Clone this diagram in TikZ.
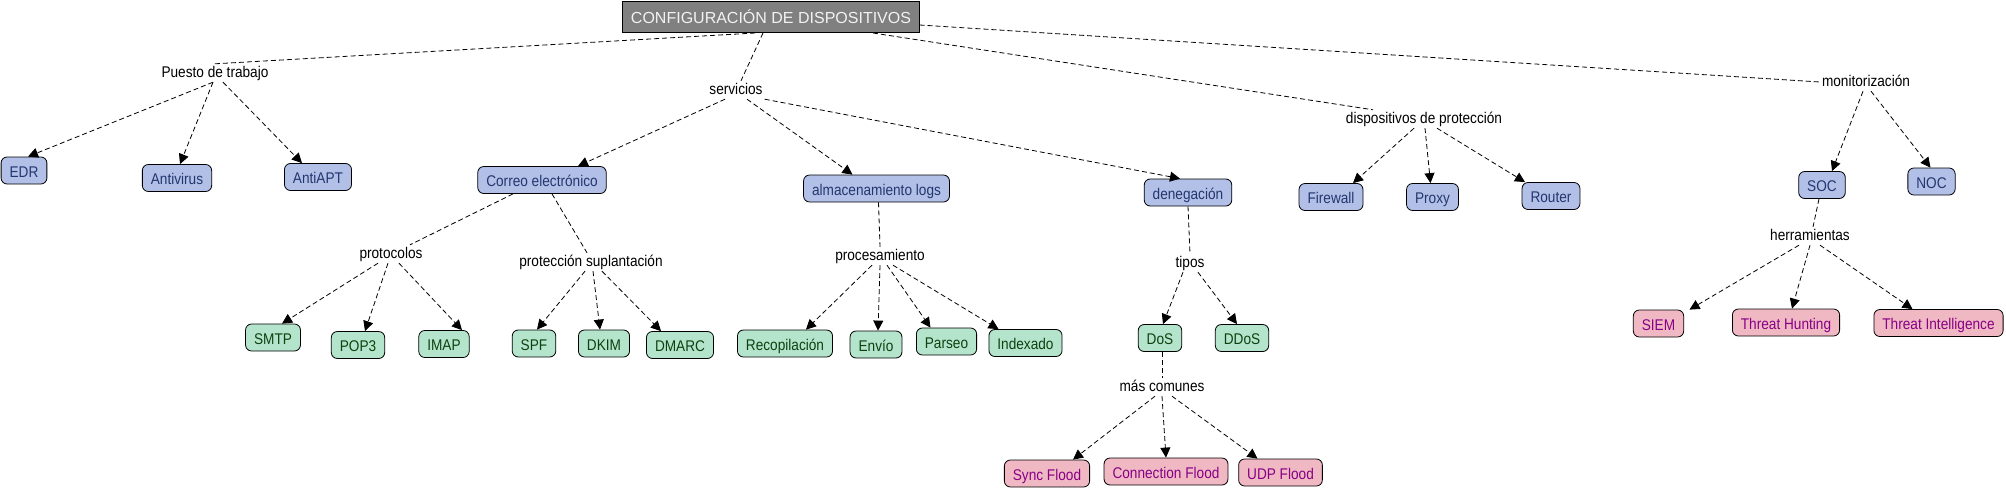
\documentclass[tikz,border=0pt]{standalone}
\usepackage{fontspec}
\setmainfont{Liberation Sans}
\newfontfamily\mapafont[FakeStretch=0.88]{Liberation Sans}
\usetikzlibrary{arrows.meta}

\definecolor{gris}{RGB}{128,128,128}
\definecolor{azulfondo}{RGB}{178,192,232}
\definecolor{azultexto}{RGB}{35,55,110}
\definecolor{verdefondo}{RGB}{180,228,204}
\definecolor{verdetexto}{RGB}{15,65,15}
\definecolor{rosafondo}{RGB}{240,184,194}
\definecolor{rosatexto}{RGB}{135,0,135}

\tikzset{
    myroot/.style={
        rectangle,            % 直角矩形
        fill=gris,            % 灰色填充
        draw=black,
        line width=1pt,
        text=black!5,
        minimum height=31pt,
        inner xsep=8pt,
        font=\fontsize{16}{19}\selectfont
    },
    myconcept/.style={
        rectangle,
        rounded corners=6pt,  % 圆角
        draw=black,
        line width=0.8pt,
        minimum height=27pt,
        inner xsep=8.5pt,
        text height=13.5pt,
        text depth=0pt,
        font=\mapafont\fontsize{15.5}{18}\selectfont
    },
    azul/.style={myconcept, fill=azulfondo, text=azultexto},
    verde/.style={myconcept, fill=verdefondo, text=verdetexto},
    rosa/.style={myconcept, fill=rosafondo, text=rosatexto},
    mylabel/.style={
        inner sep=2pt,        % 连接词，无边框
        text height=11pt,
        text depth=3pt,
        font=\mapafont\fontsize{15.5}{18}\selectfont
    },
    myline/.style={dash pattern=on 5pt off 3pt, line width=0.8pt},
    myarrow/.style={myline, -{Triangle[length=10pt,width=10pt]}}
}

\begin{document}
\begin{tikzpicture}[x=1pt, y=-1pt]
\useasboundingbox (0,0) rectangle (2006,490);

% 根节点
\node[myroot] (raiz) at (771,17) {CONFIGURACIÓN DE DISPOSITIVOS};

% 连接词
\node[mylabel] (puesto) at (215,73) {Puesto de trabajo};
\node[mylabel] (servicios) at (736,90) {servicios};
\node[mylabel] (dispositivos) at (1424,119) {dispositivos de protección};
\node[mylabel] (monitorizacion) at (1866,82) {monitorización};
\node[mylabel] (protocolos) at (391,254) {protocolos};
\node[mylabel] (proteccion) at (591,262) {protección suplantación};
\node[mylabel] (procesamiento) at (880,256) {procesamiento};
\node[mylabel] (tipos) at (1190,263) {tipos};
\node[mylabel] (herramientas) at (1810,236) {herramientas};
\node[mylabel] (comunes) at (1162,387) {más comunes};

% 蓝色概念
\node[azul] (edr) at (24,170.5) {EDR};
\node[azul] (antivirus) at (177,178) {Antivirus};
\node[azul] (antiapt) at (318,177) {AntiAPT};
\node[azul] (correo) at (542,180) {Correo electrónico};
\node[azul] (almacenamiento) at (876.5,188.5) {almacenamiento logs};
\node[azul] (denegacion) at (1188,192.5) {denegación};
\node[azul] (firewall) at (1331,197) {Firewall};
\node[azul] (proxy) at (1432.5,197) {Proxy};
\node[azul] (router) at (1551,196) {Router};
\node[azul] (soc) at (1822,185) {SOC};
\node[azul] (noc) at (1931.5,181.5) {NOC};

% 绿色概念
\node[verde] (smtp) at (273,337.5) {SMTP};
\node[verde] (pop3) at (358,345) {POP3};
\node[verde] (imap) at (444,344) {IMAP};
\node[verde] (spf) at (534,343.5) {SPF};
\node[verde] (dkim) at (604,343.5) {DKIM};
\node[verde] (dmarc) at (680,345) {DMARC};
\node[verde] (recopilacion) at (785,343.5) {Recopilación};
\node[verde] (envio) at (876,344.5) {Envío};
\node[verde] (parseo) at (946.5,341.5) {Parseo};
\node[verde] (indexado) at (1025.5,343) {Indexado};
\node[verde] (dos) at (1160,338) {DoS};
\node[verde] (ddos) at (1242,338) {DDoS};

% 粉色概念
\node[rosa] (sync) at (1047,473.5) {Sync Flood};
\node[rosa] (connection) at (1166,471.5) {Connection Flood};
\node[rosa] (udp) at (1280.5,472.5) {UDP Flood};
\node[rosa] (siem) at (1658.5,323.5) {SIEM};
\node[rosa] (hunting) at (1786,322.5) {Threat Hunting};
\node[rosa] (intelligence) at (1938.5,323) {Threat Intelligence};

% 根 -> 连接词
\draw[myline] ([xshift=-16pt]raiz.south) -- (puesto.north);
\draw[myline] ([xshift=-8pt]raiz.south) -- ([xshift=5pt]servicios.north);
\draw[myline] ([xshift=102pt]raiz.south) -- ([xshift=-51pt]dispositivos.north);
\draw[myline] ([yshift=-8pt]raiz.east) -- (monitorizacion.west);

% Puesto de trabajo
\draw[myarrow] ([xshift=-2pt]puesto.south) -- ([xshift=4pt]edr.north);
\draw[myarrow] ([xshift=-2pt]puesto.south) -- ([xshift=3pt]antivirus.north);
\draw[myarrow] ([xshift=8pt]puesto.south) -- ([xshift=-16pt]antiapt.north);

% servicios
\draw[myarrow] ([xshift=-11pt]servicios.south) -- ([xshift=36pt]correo.north);
\draw[myarrow] ([xshift=11pt]servicios.south) -- ([xshift=-24pt]almacenamiento.north);
\draw[myarrow] (servicios.south east) -- ([xshift=-8pt]denegacion.north);

% Correo electrónico
\draw[myline] ([xshift=-29pt]correo.south) -- ([xshift=19pt]protocolos.north);
\draw[myline] ([xshift=10pt]correo.south) -- ([xshift=-4pt]proteccion.north);
\draw[myarrow] ([xshift=-13pt]protocolos.south) -- ([xshift=9pt]smtp.north);
\draw[myarrow] ([xshift=-3pt]protocolos.south) -- ([xshift=7pt]pop3.north);
\draw[myarrow] ([xshift=8pt]protocolos.south) -- ([xshift=18pt]imap.north);
\draw[myarrow] ([xshift=-6pt]proteccion.south) -- ([xshift=3pt]spf.north);
\draw[myarrow] ([xshift=2pt]proteccion.south) -- ([xshift=-4pt]dkim.north);
\draw[myarrow] ([xshift=11pt]proteccion.south) -- ([xshift=-19pt]dmarc.north);

% almacenamiento logs
\draw[myline] ([xshift=2pt]almacenamiento.south) -- (procesamiento.north);
\draw[myarrow] ([xshift=-8pt]procesamiento.south) -- ([xshift=21pt]recopilacion.north);
\draw[myarrow] (procesamiento.south) -- ([xshift=2pt]envio.north);
\draw[myarrow] ([xshift=7pt]procesamiento.south) -- ([xshift=-16pt]parseo.north);
\draw[myarrow] ([xshift=13pt]procesamiento.south) -- ([xshift=-27pt]indexado.north);

% denegación
\draw[myline] (denegacion.south) -- (tipos.north);
\draw[myarrow] ([xshift=-7pt]tipos.south) -- ([xshift=3pt]dos.north);
\draw[myarrow] ([xshift=8pt]tipos.south) -- ([xshift=-5pt]ddos.north);
\draw[myline] ([xshift=2pt]dos.south) -- (comunes.north);
\draw[myarrow] ([xshift=-7pt]comunes.south) -- ([xshift=26pt]sync.north);
\draw[myarrow] (comunes.south) -- (connection.north);
\draw[myarrow] ([xshift=10pt]comunes.south) -- ([xshift=-23pt]udp.north);

% dispositivos de protección
\draw[myarrow] ([xshift=-10pt]dispositivos.south) -- ([xshift=22pt]firewall.north);
\draw[myarrow] ([xshift=1pt]dispositivos.south) -- ([xshift=-2pt]proxy.north);
\draw[myarrow] ([xshift=13pt]dispositivos.south) -- ([xshift=-26pt]router.north);

% monitorización
\draw[myarrow] ([xshift=-3pt]monitorizacion.south) -- ([xshift=10pt]soc.north);
\draw[myarrow] ([xshift=5pt]monitorizacion.south) -- ([xshift=-1pt]noc.north);
\draw[myline] ([xshift=-3pt]soc.south) -- ([xshift=3pt]herramientas.north);
\draw[myarrow] ([xshift=-11pt]herramientas.south) -- ([xshift=31pt]siem.north);
\draw[myarrow] (herramientas.south) -- ([xshift=6pt]hunting.north);
\draw[myarrow] ([xshift=10pt]herramientas.south) -- ([xshift=-26pt]intelligence.north);

\end{tikzpicture}
\end{document}
